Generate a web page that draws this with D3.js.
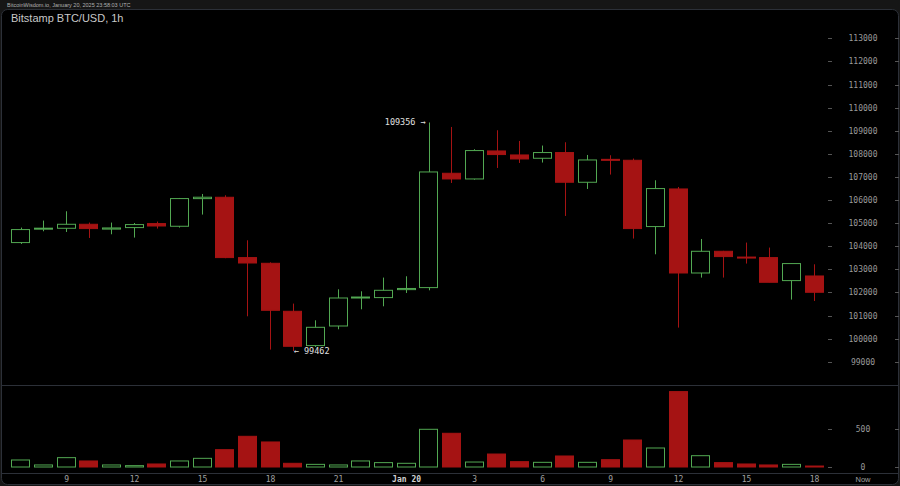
<!DOCTYPE html>
<html>
<head>
<meta charset="utf-8">
<script src="https://cdn.jsdelivr.net/npm/d3@7"></script>
<style>
  html, body { margin: 0; padding: 0; background: #161616; }
  svg { display: block; }
</style>
</head>
<body>
<div id="chart"></div>
<script>
// hourly candles, Jan 19 07:00 -> Jan 20 18:00 UTC
const times = [
  "2025-01-19T07:00Z", "2025-01-19T08:00Z", "2025-01-19T09:00Z", "2025-01-19T10:00Z",
  "2025-01-19T11:00Z", "2025-01-19T12:00Z", "2025-01-19T13:00Z", "2025-01-19T14:00Z",
  "2025-01-19T15:00Z", "2025-01-19T16:00Z", "2025-01-19T17:00Z", "2025-01-19T18:00Z",
  "2025-01-19T19:00Z", "2025-01-19T20:00Z", "2025-01-19T21:00Z", "2025-01-19T22:00Z",
  "2025-01-19T23:00Z", "2025-01-20T00:00Z", "2025-01-20T01:00Z", "2025-01-20T02:00Z",
  "2025-01-20T03:00Z", "2025-01-20T04:00Z", "2025-01-20T05:00Z", "2025-01-20T06:00Z",
  "2025-01-20T07:00Z", "2025-01-20T08:00Z", "2025-01-20T09:00Z", "2025-01-20T10:00Z",
  "2025-01-20T11:00Z", "2025-01-20T12:00Z", "2025-01-20T13:00Z", "2025-01-20T14:00Z",
  "2025-01-20T15:00Z", "2025-01-20T16:00Z", "2025-01-20T17:00Z", "2025-01-20T18:00Z"
];
const opens = [
  104157, 104750, 104776, 104949, 104740, 104806, 104980, 104863, 106060,
  106118, 103507, 103260, 101182, 99697, 100546, 101780, 101775, 102120,
  102208, 107157, 106911, 108123, 107950, 107807, 108054, 106768, 107760,
  107720, 104850, 106478, 102840, 103780, 103530, 103507, 102511, 102711
];
const highs = [
  104806, 105109, 105512, 105023, 105023, 105005, 105066, 106088, 106261,
  106205, 104256, 103300, 101515, 100792, 102135, 102048, 102641, 102698,
  109356, 109162, 108197, 109019, 108556, 108357, 108500, 107950, 107937,
  107794, 106854, 106564, 104313, 103800, 104157, 103940, 103248, 103217
];
const lows = [
  104096, 104646, 104616, 104356, 104516, 104373, 104763, 104806, 105369,
  103480, 100966, 99524, 99462, 99636, 100403, 101269, 101399, 101975,
  102091, 106737, 106880, 107387, 107603, 107621, 105309, 106478, 107101,
  104330, 103650, 100476, 102641, 102641, 103248, 102438, 101689, 101628
];
const closes = [
  104720, 104780, 104949, 104763, 104790, 104936, 104875, 106062, 106120,
  103507, 103273, 101225, 99667, 100489, 101758, 101800, 102091, 102170,
  107214, 106911, 108140, 107967, 107777, 108054, 106768, 107733, 107730,
  104763, 106495, 102840, 103780, 103551, 103500, 102438, 103248, 102005
];
const volumes = [
  93, 27, 124, 80, 27, 18, 40, 80, 115,
  230, 407, 332, 49, 35, 27, 80, 58, 49,
  500, 447, 66, 172, 71, 62, 146, 62, 97,
  358, 252, 1000, 150, 58, 40, 27, 35, 13
];

const priceTicks = [99000, 100000, 101000, 102000, 103000, 104000, 105000, 106000,
  107000, 108000, 109000, 110000, 111000, 112000, 113000];
const volumeTicks = [0, 500];
const timeTicks = [
  "2025-01-19T09:00Z", "2025-01-19T12:00Z", "2025-01-19T15:00Z", "2025-01-19T18:00Z",
  "2025-01-19T21:00Z", "2025-01-20T00:00Z", "2025-01-20T03:00Z", "2025-01-20T06:00Z",
  "2025-01-20T09:00Z", "2025-01-20T12:00Z", "2025-01-20T15:00Z", "2025-01-20T18:00Z"
];

const width = 900, height = 486;
const RED = "#a51313", GREEN = "#52a852";
const mono = "'DejaVu Sans Mono', monospace";

const candles = times.map((t, i) => ({
  t: new Date(t), o: opens[i], h: highs[i], l: lows[i], c: closes[i], v: volumes[i]
}));

const x = d3.scaleUtc()
  .domain([new Date(times[0]), new Date(times[times.length - 1])])
  .range([20.7, 814.1]);
const y = d3.scaleLinear().domain([99000, 113000]).range([361.7, 38.3]);
const yv = d3.scaleLinear().domain([0, 500]).range([467, 429.3]);
const bw = 19;

const svg = d3.select("#chart").append("svg")
  .attr("width", width)
  .attr("height", height);

// frame
svg.append("rect")
  .attr("x", 0).attr("y", 0).attr("width", width).attr("height", height)
  .style("fill", "#161616");
svg.append("rect")
  .attr("x", 1.5).attr("y", 9.5).attr("width", width - 3).attr("height", height - 11)
  .attr("rx", 6)
  .style("fill", "#000")
  .style("stroke", "#2c3038");
svg.append("line")
  .attr("x1", 2).attr("x2", width - 2).attr("y1", 385.5).attr("y2", 385.5)
  .style("stroke", "#2c3038");
svg.append("line")
  .attr("x1", 2).attr("x2", width - 2).attr("y1", 473.5).attr("y2", 473.5)
  .style("stroke", "#2c3038");

svg.append("text")
  .attr("x", 7).attr("y", 6.5)
  .style("font-family", "'Liberation Sans', sans-serif")
  .style("font-size", "5.5px")
  .style("fill", "#b0b0b0")
  .text("BitcoinWisdom.io, January 20, 2025 23:58:03 UTC");

svg.append("text")
  .attr("x", 11).attr("y", 22)
  .style("font-family", "'Liberation Sans', Arial, sans-serif")
  .style("font-size", "11px")
  .style("fill", "#c8c8c8")
  .text("Bitstamp BTC/USD, 1h");

// price axis
const yAxis = svg.append("g")
  .attr("transform", "translate(863,0)")
  .call(d3.axisRight(y).tickValues(priceTicks).tickFormat(d3.format("d"))
    .tickSize(0).tickPadding(0));
yAxis.select(".domain").remove();
yAxis.selectAll("text")
  .attr("text-anchor", "middle")
  .style("font-family", mono)
  .style("font-size", "8px")
  .style("fill", "#9a9a9a");

const dashes = svg.append("g");
[[828, 832], [895, 899]].forEach(([a, b]) => {
  dashes.selectAll(null).data(priceTicks).enter().append("line")
    .attr("x1", a).attr("x2", b)
    .attr("y1", d => Math.round(y(d)) + 0.5).attr("y2", d => Math.round(y(d)) + 0.5)
    .style("stroke", "#555");
  dashes.selectAll(null).data(volumeTicks).enter().append("line")
    .attr("x1", a).attr("x2", b)
    .attr("y1", d => Math.round(yv(d)) + 0.5).attr("y2", d => Math.round(yv(d)) + 0.5)
    .style("stroke", "#555");
});

// volume axis
const vAxis = svg.append("g")
  .attr("transform", "translate(863,0)")
  .call(d3.axisRight(yv).tickValues(volumeTicks).tickFormat(d3.format("d"))
    .tickSize(0).tickPadding(0));
vAxis.select(".domain").remove();
vAxis.selectAll("text")
  .attr("text-anchor", "middle")
  .style("font-family", mono)
  .style("font-size", "8px")
  .style("fill", "#9a9a9a");

// time axis
const fmt = d => d.getUTCHours() === 0 ? "Jan 20" : String(d.getUTCHours());
const xAxis = svg.append("g")
  .attr("transform", "translate(0,472)")
  .call(d3.axisBottom(x).tickValues(timeTicks.map(t => new Date(t)))
    .tickFormat(fmt).tickSize(0).tickPadding(4));
xAxis.select(".domain").remove();
xAxis.selectAll("text")
  .style("font-family", mono)
  .style("font-size", "8px")
  .style("fill", d => d.getUTCHours() === 0 ? "#d0d0d0" : "#a0a0a0")
  .style("font-weight", d => d.getUTCHours() === 0 ? "bold" : "normal");

svg.append("text")
  .attr("x", 863).attr("y", 482)
  .attr("text-anchor", "middle")
  .style("font-family", "'Liberation Sans', sans-serif")
  .style("font-size", "7.5px")
  .style("fill", "#a0a0a0")
  .text("Now");

// candles
const up = d => d.c >= d.o;
const g = svg.append("g");

g.selectAll(".wick").data(candles).enter().append("line")
  .attr("class", "wick")
  .attr("x1", d => Math.round(x(d.t)) + 0.5)
  .attr("x2", d => Math.round(x(d.t)) + 0.5)
  .attr("y1", d => y(d.h))
  .attr("y2", d => y(d.l))
  .style("stroke", d => up(d) ? GREEN : RED)
  .style("stroke-width", 1);

g.selectAll(".body").data(candles).enter().append("rect")
  .attr("class", "body")
  .attr("x", d => Math.round(x(d.t) - bw / 2) + 0.5)
  .attr("y", d => y(Math.max(d.o, d.c)))
  .attr("width", bw - 1)
  .attr("height", d => Math.max(1, Math.abs(y(d.o) - y(d.c))))
  .style("fill", d => up(d) ? "#000" : RED)
  .style("stroke", d => up(d) ? GREEN : RED)
  .style("stroke-width", 1);

// volume bars
g.selectAll(".vol").data(candles).enter().append("rect")
  .attr("class", "vol")
  .attr("x", d => Math.round(x(d.t) - bw / 2) + 0.5)
  .attr("y", d => yv(d.v))
  .attr("width", bw - 1)
  .attr("height", d => Math.max(1, yv(0) - yv(d.v)))
  .style("fill", d => up(d) ? "#000" : RED)
  .style("stroke", d => up(d) ? GREEN : RED)
  .style("stroke-width", 1);

// high / low markers
const hi = candles[d3.maxIndex(candles, d => d.h)];
const lo = candles[d3.minIndex(candles, d => d.l)];
svg.append("text")
  .attr("x", x(hi.t) - 3).attr("y", y(hi.h) + 3)
  .attr("text-anchor", "end")
  .style("font-family", mono)
  .style("font-size", "8.5px")
  .style("fill", "#e0e0e0")
  .text(hi.h + " \u2192");
svg.append("text")
  .attr("x", x(lo.t) + 1).attr("y", y(lo.l) + 3)
  .style("font-family", mono)
  .style("font-size", "8.5px")
  .style("fill", "#e0e0e0")
  .text("\u2190 " + lo.l);
</script>
</body>
</html>
